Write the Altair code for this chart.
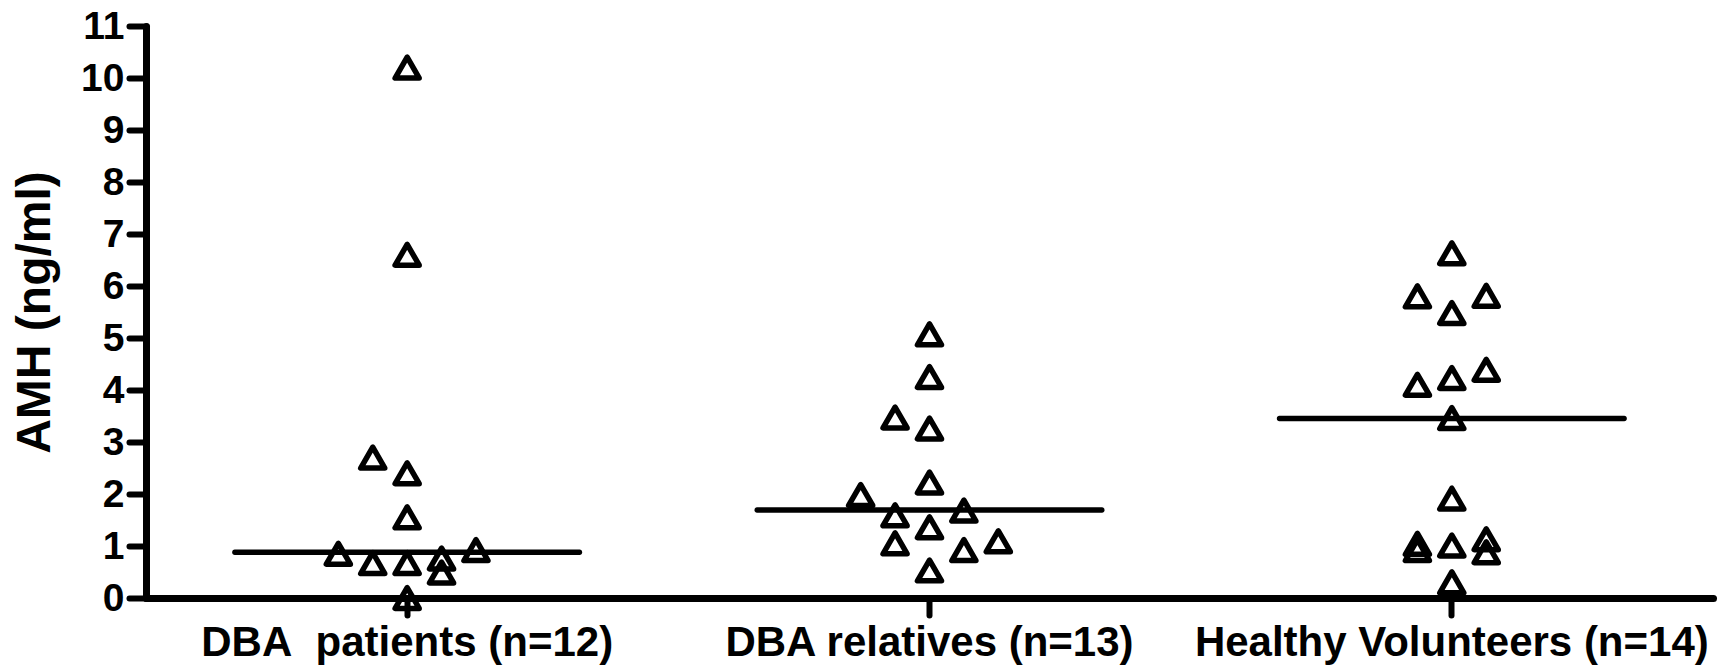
import altair as alt
import pandas as pd

groups = ["DBA\u00a0 patients (n=12)", "DBA relatives (n=13)", "Healthy Volunteers (n=14)"]

# AMH values (ng/ml) and dodge slot (column within the group)
patients_amh = [10.2, 6.6, 2.7, 2.4, 1.55, 0.85, 0.67, 0.67, 0.76, 0.49, 0.92, 0.0]
patients_slot = [0, 0, -1, 0, 0, -2, -1, 0, 1, 1, 2, 0]
relatives_amh = [5.07, 4.25, 3.47, 3.26, 2.22, 1.98, 1.59, 1.68, 1.36, 1.05, 0.92, 1.09, 0.53]
relatives_slot = [0, 0, -1, 0, 0, -2, -1, 1, 0, -1, 1, 2, 0]
healthy_amh = [6.63, 5.80, 5.81, 5.48, 4.10, 4.23, 4.39, 3.46, 1.91, 1.04, 0.92, 1.01, 1.13, 0.88, 0.30]
healthy_slot = [0, -1, 1, 0, -1, 0, 1, 0, 0, -1, -1, 0, 1, 1, 0]
medians = [0.88, 1.69, 3.45]
y_ticks = list(range(0, 12))

rows = []
for g, vals, slots in zip(groups, [patients_amh, relatives_amh, healthy_amh],
                          [patients_slot, relatives_slot, healthy_slot]):
    for v, s in zip(vals, slots):
        rows.append({"group": g, "amh": v, "slot": s})
df = pd.DataFrame(rows)
mdf = pd.DataFrame({"group": groups, "median": medians})

FONT = "Liberation Sans"

xscale = alt.Scale(domain=groups, paddingInner=0, paddingOuter=0)
yscale = alt.Scale(domain=[0, 11], nice=False, zero=True)

xaxis = alt.Axis(
    title=None, labelAngle=0, domainColor="black", domainWidth=7, domainCap="round",
    tickColor="black", tickWidth=6, tickSize=17, tickCap="round",
    labelFont=FONT, labelFontSize=42, labelFontWeight="bold", labelColor="black",
    labelPadding=7, labelBaseline="top", labelLimit=0, labelOverlap=False, grid=False,
)
yaxis = alt.Axis(
    values=y_ticks, grid=False, domainColor="black", domainWidth=7, domainCap="round",
    tickColor="black", tickWidth=6, tickSize=17, tickCap="round",
    labelFont=FONT, labelFontSize=39, labelFontWeight="bold", labelColor="black",
    labelPadding=5, labelFlush=False, labelOverlap=False, labelLimit=0,
    titleFont=FONT, titleFontSize=48, titleFontWeight="bold", titleColor="black",
    titleAngle=270, titleAlign="center", titleBaseline="alphabetic",
    titleX=-97, titleY=286, titleLimit=0,
)

x_enc = alt.X("group:N", sort=groups, scale=xscale, axis=xaxis)
y_title = "AMH (ng/ml)"

med = alt.Chart(mdf).mark_tick(
    size=350, thickness=5.5, color="black", cornerRadius=2.5, opacity=1
).encode(
    x=x_enc,
    y=alt.Y("median:Q", scale=yscale, axis=yaxis, title=y_title),
)

points = alt.Chart(df).mark_point(
    shape="triangle-up", filled=False, size=580, strokeWidth=5.5,
    color="black", strokeJoin="round", opacity=1, clip=False,
).encode(
    x=x_enc,
    xOffset=alt.XOffset("slot:Q", scale=alt.Scale(domain=[-7.59, 7.59])),
    y=alt.Y("amh:Q", scale=yscale, axis=yaxis, title=y_title),
)

chart = alt.layer(med, points).properties(
    width=1567, height=572,
    autosize=alt.AutoSizeParams(type="none"),
    padding={"left": 146, "top": 26, "right": 12, "bottom": 70},
    background="white",
).configure_view(stroke=None)

chart.save("out.html", embed_options={"renderer": "svg", "actions": False})
